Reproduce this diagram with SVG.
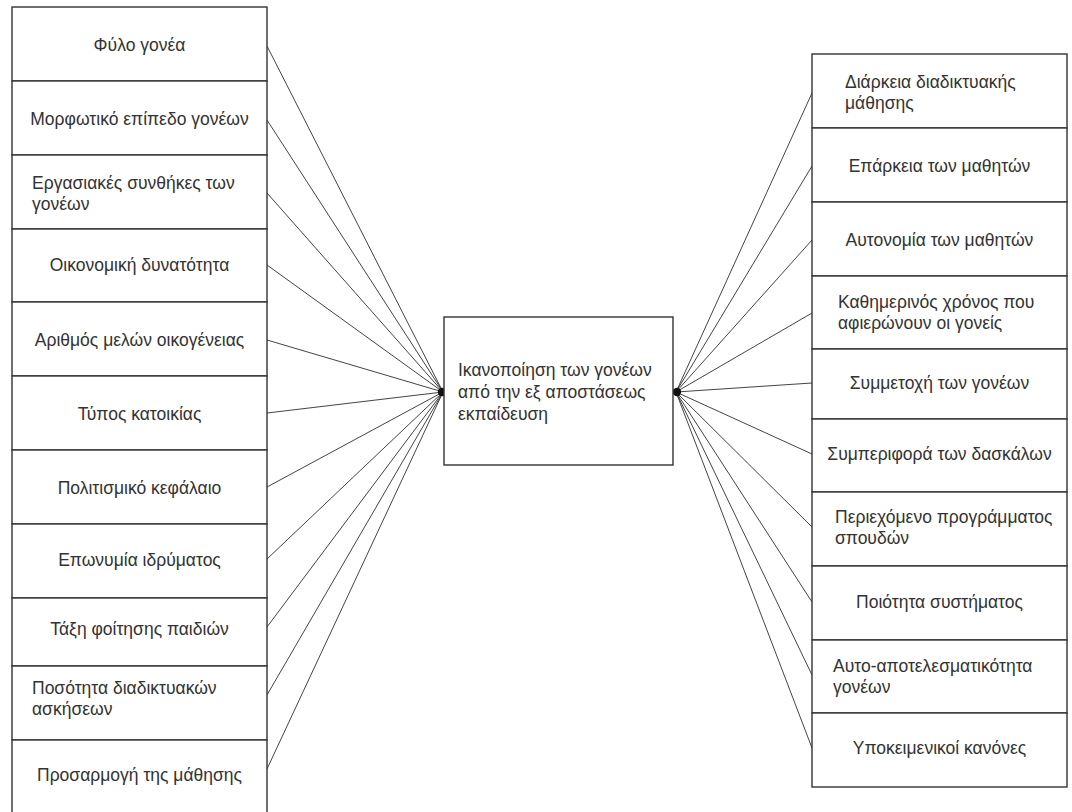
<svg xmlns="http://www.w3.org/2000/svg" width="1072" height="812" viewBox="0 0 1072 812">
<style>
.box{fill:#fff;stroke:#333;stroke-width:1.4}
.t{font-family:"Liberation Sans",Arial,sans-serif;font-size:17.5px;fill:#333}
.c{text-anchor:middle}
.ln{stroke:#444;stroke-width:1;fill:none}
.hub{fill:#111}
</style>
<rect width="1072" height="812" fill="#fff"/>
<g id="connectors">
<line class="ln" x1="267" y1="46" x2="443" y2="392"/>
<line class="ln" x1="267" y1="120" x2="443" y2="392"/>
<line class="ln" x1="267" y1="193" x2="443" y2="392"/>
<line class="ln" x1="267" y1="265" x2="443" y2="392"/>
<line class="ln" x1="267" y1="340" x2="443" y2="392"/>
<line class="ln" x1="267" y1="413" x2="443" y2="392"/>
<line class="ln" x1="267" y1="487" x2="443" y2="392"/>
<line class="ln" x1="267" y1="559" x2="443" y2="392"/>
<line class="ln" x1="267" y1="627" x2="443" y2="392"/>
<line class="ln" x1="267" y1="695" x2="443" y2="392"/>
<line class="ln" x1="267" y1="769" x2="443" y2="392"/>
<line class="ln" x1="812" y1="93" x2="676" y2="392"/>
<line class="ln" x1="812" y1="166" x2="676" y2="392"/>
<line class="ln" x1="812" y1="240" x2="676" y2="392"/>
<line class="ln" x1="812" y1="313" x2="676" y2="392"/>
<line class="ln" x1="812" y1="383" x2="676" y2="392"/>
<line class="ln" x1="812" y1="454" x2="676" y2="392"/>
<line class="ln" x1="812" y1="527" x2="676" y2="392"/>
<line class="ln" x1="812" y1="602" x2="676" y2="392"/>
<line class="ln" x1="812" y1="675" x2="676" y2="392"/>
<line class="ln" x1="812" y1="748" x2="676" y2="392"/>
<circle class="hub" cx="442" cy="392" r="4.2"/>
<circle class="hub" cx="677" cy="392" r="4.2"/>
</g>
<g id="center">
<rect class="box" x="444" y="317" width="229" height="148"/>
<text class="t" x="458" y="376">Ικανοποίηση των γονέων</text>
<text class="t" x="458" y="398">από την εξ αποστάσεως</text>
<text class="t" x="458" y="420">εκπαίδευση</text>
</g>
<g id="left-1"><rect class="box" x="12" y="7" width="255" height="74"/><text class="t c" x="139.5" y="51">Φύλο γονέα</text></g>
<g id="left-2"><rect class="box" x="12" y="81" width="255" height="74"/><text class="t c" x="139.5" y="125">Μορφωτικό επίπεδο γονέων</text></g>
<g id="left-3"><rect class="box" x="12" y="155" width="255" height="74"/><text class="t" x="32" y="189">Εργασιακές συνθήκες των</text><text class="t" x="32" y="210">γονέων</text></g>
<g id="left-4"><rect class="box" x="12" y="229" width="255" height="73"/><text class="t c" x="139.5" y="271">Οικονομική δυνατότητα</text></g>
<g id="left-5"><rect class="box" x="12" y="302" width="255" height="74"/><text class="t c" x="139.5" y="346">Αριθμός μελών οικογένειας</text></g>
<g id="left-6"><rect class="box" x="12" y="376" width="255" height="74"/><text class="t c" x="139.5" y="420">Τύπος κατοικίας</text></g>
<g id="left-7"><rect class="box" x="12" y="450" width="255" height="74"/><text class="t c" x="139.5" y="494">Πολιτισμικό κεφάλαιο</text></g>
<g id="left-8"><rect class="box" x="12" y="524" width="255" height="74"/><text class="t c" x="139.5" y="566">Επωνυμία ιδρύματος</text></g>
<g id="left-9"><rect class="box" x="12" y="598" width="255" height="68"/><text class="t c" x="139.5" y="635">Τάξη φοίτησης παιδιών</text></g>
<g id="left-10"><rect class="box" x="12" y="666" width="255" height="74"/><text class="t" x="32" y="694">Ποσότητα διαδικτυακών</text><text class="t" x="32" y="715">ασκήσεων</text></g>
<g id="left-11"><rect class="box" x="12" y="740" width="255" height="80"/><text class="t c" x="139.5" y="781">Προσαρμογή της μάθησης</text></g>
<g id="right-1"><rect class="box" x="812" y="54" width="255" height="74"/><text class="t" x="845" y="88">Διάρκεια διαδικτυακής</text><text class="t" x="845" y="109">μάθησης</text></g>
<g id="right-2"><rect class="box" x="812" y="128" width="255" height="74"/><text class="t c" x="939.5" y="172">Επάρκεια των μαθητών</text></g>
<g id="right-3"><rect class="box" x="812" y="202" width="255" height="74"/><text class="t c" x="939.5" y="246">Αυτονομία των μαθητών</text></g>
<g id="right-4"><rect class="box" x="812" y="276" width="255" height="73"/><text class="t" x="838" y="308">Καθημερινός χρόνος που</text><text class="t" x="838" y="329">αφιερώνουν οι γονείς</text></g>
<g id="right-5"><rect class="box" x="812" y="349" width="255" height="70"/><text class="t c" x="939.5" y="389">Συμμετοχή των γονέων</text></g>
<g id="right-6"><rect class="box" x="812" y="419" width="255" height="73"/><text class="t c" x="939.5" y="460">Συμπεριφορά των δασκάλων</text></g>
<g id="right-7"><rect class="box" x="812" y="492" width="255" height="74"/><text class="t" x="835" y="523">Περιεχόμενο προγράμματος</text><text class="t" x="835" y="544">σπουδών</text></g>
<g id="right-8"><rect class="box" x="812" y="566" width="255" height="74"/><text class="t c" x="939.5" y="608">Ποιότητα συστήματος</text></g>
<g id="right-9"><rect class="box" x="812" y="640" width="255" height="73"/><text class="t" x="833" y="672">Αυτο-αποτελεσματικότητα</text><text class="t" x="833" y="693">γονέων</text></g>
<g id="right-10"><rect class="box" x="812" y="713" width="255" height="74"/><text class="t c" x="939.5" y="754">Υποκειμενικοί κανόνες</text></g>
</svg>
